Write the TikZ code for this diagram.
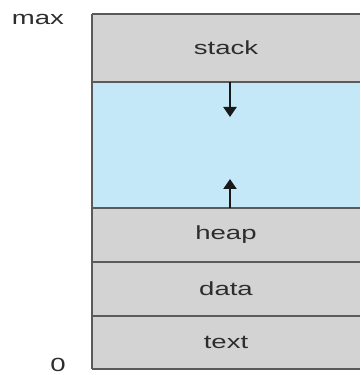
\documentclass[tikz,border=0pt]{standalone}
\usepackage{fontspec}
\setmainfont{Liberation Sans}
\usepackage{tikz}
\usetikzlibrary{arrows.meta,positioning}
\definecolor{seggray}{RGB}{211,211,211}
\definecolor{segblue}{RGB}{197,232,248}
\definecolor{segline}{RGB}{90,90,90}
\definecolor{labeltxt}{RGB}{45,45,45}
\newcommand{\widetxt}[1]{\scalebox{1.45}[1]{#1}}

\begin{document}
\begin{tikzpicture}[
    x=1pt, y=1pt,
    font=\fontsize{19}{22}\selectfont,
    seg/.style={rectangle, fill=seggray, minimum width=268pt, inner sep=0pt, outer sep=0pt, text=labeltxt},
    sepline/.style={draw=segline, line width=1.3pt},
    growarrow/.style={-{Triangle[length=10pt,width=13pt]}, line width=2.3pt, draw=black!90}
]
    \useasboundingbox (0,0) rectangle (360,375);

    % Segments
    \node[seg, minimum height=68pt] (stack) at (226,327) {\widetxt{stack}};
    \node[seg, fill=segblue, minimum height=126pt, below=0pt of stack] (free) {};
    \node[seg, minimum height=54pt, below=0pt of free] (heap) {\widetxt{heap}};
    \node[seg, minimum height=54pt, below=0pt of heap] (data) {\widetxt{data}};
    \node[seg, minimum height=53pt, below=0pt of data] (text) {\widetxt{text}};

    % Borders
    \draw[sepline] (stack.north west) -- (stack.north east);
    \draw[sepline] (free.north west) -- (free.north east);
    \draw[sepline] (heap.north west) -- (heap.north east);
    \draw[sepline] (data.north west) -- (data.north east);
    \draw[sepline] (text.north west) -- (text.north east);
    \draw[sepline] (text.south west) -- (text.south east);
    \draw[sepline] (stack.north west) -- (text.south west);

    % Growth
    \coordinate (stacktip) at (230,258);
    \coordinate (heaptip) at (230,196);
    \draw[growarrow] ([xshift=4pt]stack.south) -- (stacktip);
    \draw[growarrow] ([xshift=4pt]heap.north) -- (heaptip);

    % Addresses
    \node[anchor=base, text=labeltxt] (maxaddr) at (38,350) {\widetxt{max}};
    \node[anchor=base, inner sep=0pt, text=labeltxt] (zeroaddr) at (58,3) {\widetxt{0}};
\end{tikzpicture}
\end{document}
